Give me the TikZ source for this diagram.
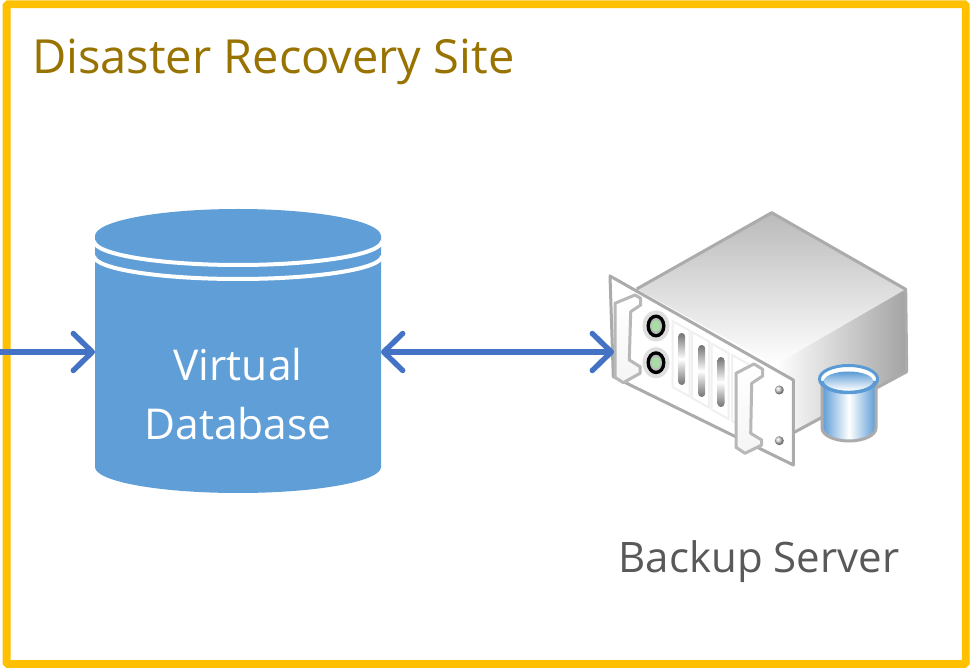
\documentclass[tikz,border=0pt]{standalone}
\usepackage{fontspec}
\setmainfont{Open Sans}
\usetikzlibrary{arrows.meta}
\definecolor{frameY}{HTML}{FFC000}
\definecolor{titleC}{HTML}{997300}
\definecolor{dbBlue}{HTML}{5F9ED7}
\definecolor{arrowB}{HTML}{4472C4}
\definecolor{srvLine}{HTML}{ABABAB}
\definecolor{smallB}{HTML}{5B9BD5}
\definecolor{ledG}{HTML}{A8DDA8}
\tikzset{
  x=1pt,y=-1pt,
  ghost/.style={inner sep=0pt,outer sep=0pt,minimum width=#1},
  link/.style={draw=arrowB,line width=5.4pt},
  barb/.tip={Straight Barb[length=19pt,width=37pt,line width=5.4pt,round]},
  lab/.style={inner sep=0pt,anchor=base,font=\fontsize{#1}{#1}\selectfont},
  plate/.style={draw=srvLine,line width=3pt,line join=round},
  handle/.style={plate,top color=white,bottom color=black!4,draw=black!28,line width=3pt},
  cardbox/.style={draw=black!6,line width=2pt,fill=white},
  slot/.style={top color=black!55,bottom color=black!55,middle color=white,draw=none},
}
\begin{document}
\begin{tikzpicture}
\useasboundingbox (0,0) rectangle (970,668);
\fill[white] (0,0) rectangle (970,668);
\draw[frameY,line width=7.8pt,rounded corners=1.5pt] (6.6,4.2) rectangle (965.7,664.1);
\node[lab=47,text=titleC,anchor=base west] (title) at (32,73.5) {Disaster Recovery Site};

% database
\path[fill=dbBlue] (95,236) arc[start angle=180,end angle=360,x radius=143,y radius=27]
  -- (381,467) arc[start angle=0,end angle=180,x radius=143,y radius=26] -- cycle;
\draw[white,line width=4pt] (94,241) arc[start angle=180,end angle=0,x radius=144,y radius=24];
\draw[white,line width=4pt] (94,256) arc[start angle=180,end angle=0,x radius=144,y radius=23];
\node[ghost=286pt,minimum height=284pt] (db) at (238,351.5) {};
\node[lab=42.5,text=white] (dbA) at (238,380.5) {Virtual};
\node[lab=42.5,text=white] (dbB) at (238,439.5) {Database};

% server
\shade[top color=black!27,bottom color=white] (771.7,212.7) -- (905.7,289.3) -- (775,365) -- (636.7,289) -- cycle;
\shade[left color=white,right color=black!36] (775,365) -- (905.7,289.3) -- (906.7,371.7) -- (793,433) -- (793,380) -- cycle;
\draw[plate] (636.7,289) -- (771.7,212.7) -- (905.7,289.3) -- (906.7,371.7) -- (793,433);
\draw[plate,fill=white] (610,276) -- (793.3,380) -- (793.3,465) -- (613.3,376.7) -- cycle;
\foreach \xa/\ya in {672.5/321,692/332,711.5/343.5,732/355}{
  \draw[cardbox] (\xa,\ya) -- ++(17,9.5) -- ++(0,66) -- ++(-17,-9.5) -- cycle;
}
\foreach \xc/\yt/\yb in {681.7/333/385,701.7/345/397,721/357/407}{
  \shade[slot] (\xc-3.5,\yt+3.5) arc[start angle=180,end angle=360,radius=3.5] -- (\xc+3.5,\yb-3.5) arc[start angle=0,end angle=180,radius=3.5] -- cycle;
}
\foreach \yl in {326,362.7}{
  \fill[black!13] (656,\yl) ellipse[x radius=13.5,y radius=15.5];
  \fill[black] (656,\yl) ellipse[x radius=9.5,y radius=11.5];
  \fill[white!72!black] (656,\yl) ellipse[x radius=6,y radius=8];
  \fill[ledG] (656,\yl) ellipse[x radius=4.5,y radius=6];
}
\draw[handle] (615,303.3) -- (635,295) -- (640.7,298.3) -- (640.7,305) -- (630.7,311.7) -- (629.3,360) -- (640,366.7) -- (640,373.3) -- (623.3,382.7) -- (615,377.3) -- cycle;
\draw[handle] (736,373.3) -- (754,364) -- (762.7,369.3) -- (762.7,376) -- (751.7,383.3) -- (750.7,433.3) -- (761.7,440) -- (761.7,445) -- (745,453.3) -- (736,447.3) -- cycle;
\foreach \ys in {390,440.7}{
  \shade[ball color=black!18] (779.3,\ys) circle[radius=4.5];
}
% small cylinder
\shade[left color=smallB,right color=smallB,middle color=white,draw=srvLine,line width=3pt]
  (822,380) -- (822,428) arc[start angle=180,end angle=0,x radius=27,y radius=13] -- (876,380) -- cycle;
\draw[smallB,line width=3pt,fill=white] (848.5,379) ellipse[x radius=29,y radius=13.5];
\shade[top color=smallB,bottom color=white] (848.5,381) ellipse[x radius=24.5,y radius=9.5];
\draw[smallB,line width=3.4pt] (822,381) arc[start angle=180,end angle=0,x radius=26.5,y radius=11.5];
\node[ghost=300pt,minimum height=260pt] (srv) at (764,340) {};
\node[lab=42,text=black!65] (srvT) at (759,572) {Backup Server};

% connectors
\coordinate (inlet) at (0,352);
\draw[link,-{barb}] (inlet) -- (db.west |- inlet);
\draw[link,{barb}-{barb}] (db.east |- inlet) -- (srv.west |- inlet);
\end{tikzpicture}
\end{document}
